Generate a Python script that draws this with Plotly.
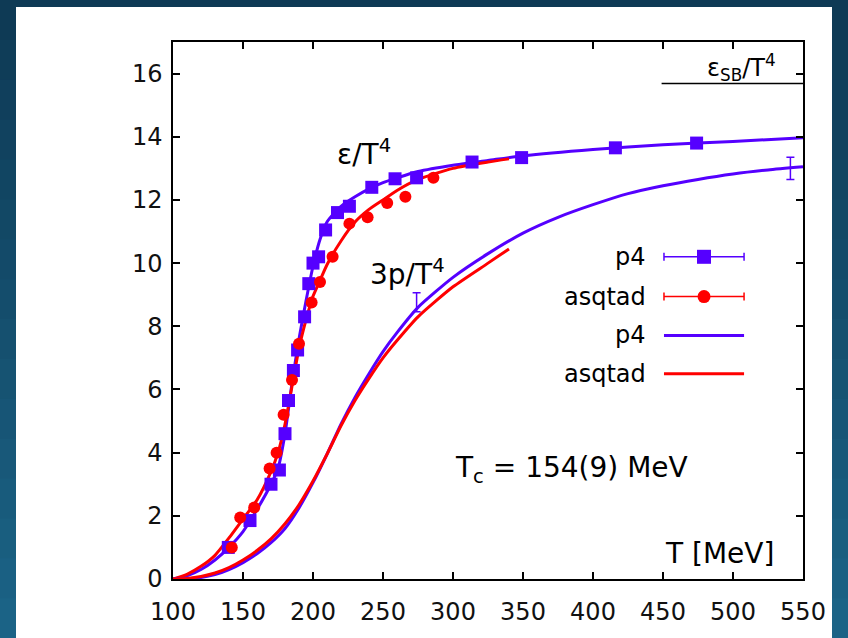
import plotly.graph_objects as go

# ---------------- data ----------------
p4_T = [139.5, 155, 170, 176, 180, 182.5, 186, 189, 194, 197, 200, 204, 209, 217.5, 226, 242, 258.6, 274, 313.6, 349, 416, 474]
p4_e = [1.0, 1.85, 3.0, 3.45, 4.6, 5.65, 6.6, 7.25, 8.3, 9.35, 10.0, 10.2, 11.05, 11.6, 11.8, 12.4, 12.67, 12.7, 13.2, 13.34, 13.65, 13.8]

asq_T = [142, 148, 158, 169, 174, 179, 185, 190, 199, 205, 214, 226, 239, 253, 266, 286]
asq_e = [1.0, 1.95, 2.26, 3.5, 4.0, 5.2, 6.3, 7.45, 8.75, 9.4, 10.2, 11.25, 11.45, 11.9, 12.1, 12.7]

p4_curve_T = [100, 110, 120, 130, 140, 150, 160, 170, 175, 180, 185, 190, 195, 200, 205, 210, 220, 230, 240, 250, 260, 275, 300, 325, 350, 400, 450, 500, 550]
p4_curve_e = [0, 0.1, 0.3, 0.6, 1.0, 1.5, 2.2, 3.0, 3.5, 4.6, 6.2, 7.6, 8.8, 9.9, 10.75, 11.3, 11.8, 12.1, 12.35, 12.55, 12.7, 12.9, 13.1, 13.25, 13.4, 13.6, 13.75, 13.85, 13.97]

asq_curve_T = [100, 110, 120, 130, 140, 150, 160, 170, 175, 180, 185, 190, 195, 200, 205, 210, 220, 230, 240, 250, 260, 275, 300, 325, 340]
asq_curve_e = [0, 0.15, 0.4, 0.75, 1.3, 1.9, 2.5, 3.4, 4.0, 4.9, 6.1, 7.3, 8.2, 8.95, 9.45, 9.95, 10.7, 11.3, 11.7, 12.0, 12.3, 12.65, 13.0, 13.2, 13.3]

p4_p_T = [100, 110, 120, 130, 140, 150, 160, 170, 180, 190, 200, 210, 220, 230, 240, 250, 260, 275, 300, 325, 350, 375, 400, 425, 450, 475, 500, 525, 550]
p4_p = [0, 0.01, 0.05, 0.14, 0.3, 0.52, 0.8, 1.15, 1.6, 2.25, 3.05, 3.95, 4.9, 5.75, 6.5, 7.2, 7.8, 8.6, 9.55, 10.3, 10.95, 11.45, 11.85, 12.2, 12.45, 12.65, 12.82, 12.95, 13.05]

asq_p_T = [100, 110, 120, 130, 140, 150, 160, 170, 180, 190, 200, 210, 220, 230, 240, 250, 260, 275, 300, 325, 340]
asq_p = [0, 0.02, 0.08, 0.19, 0.36, 0.6, 0.9, 1.27, 1.75, 2.35, 3.1, 3.95, 4.85, 5.65, 6.35, 7.0, 7.55, 8.3, 9.25, 10.0, 10.45]

p4_perr_T = [274, 541]
p4_perr_y = [8.76, 13.0]
p4_perr = [0.3, 0.35]

eps_SB = 15.69
eps_SB_T = [449, 550]

x_ticks = [100, 150, 200, 250, 300, 350, 400, 450, 500, 550]
y_ticks = [0, 2, 4, 6, 8, 10, 12, 14, 16]

PURPLE = "#5500ff"
RED = "#ff0000"
FONT = "DejaVu Sans"

W, H = 848, 638
ML, MR, MT, MB = 173, 45, 42, 59
PW, PH = W - ML - MR, H - MT - MB


def fx(px):
    return (px - ML) / PW


def fy(py):
    return (H - MB - py) / PH


fig = go.Figure()

curve_line = dict(width=3, shape="spline", smoothing=0.6)

# curves
fig.add_trace(go.Scatter(x=p4_curve_T, y=p4_curve_e, mode="lines", line=dict(color=PURPLE, **curve_line)))
fig.add_trace(go.Scatter(x=asq_curve_T, y=asq_curve_e, mode="lines", line=dict(color=RED, **curve_line)))
fig.add_trace(go.Scatter(x=p4_p_T, y=p4_p, mode="lines", line=dict(color=PURPLE, **curve_line)))
fig.add_trace(go.Scatter(x=asq_p_T, y=asq_p, mode="lines", line=dict(color=RED, **curve_line)))

# pressure error bars
fig.add_trace(go.Scatter(x=p4_perr_T, y=p4_perr_y, mode="markers", marker=dict(size=1, color=PURPLE),
                         error_y=dict(type="data", array=p4_perr, color=PURPLE, thickness=1.5, width=4)))

# data points
fig.add_trace(go.Scatter(x=p4_T, y=p4_e, mode="markers", marker=dict(symbol="square", size=13, color=PURPLE)))
fig.add_trace(go.Scatter(x=asq_T, y=asq_e, mode="markers", marker=dict(symbol="circle", size=12, color=RED)))

# SB limit
fig.add_trace(go.Scatter(x=eps_SB_T, y=[eps_SB, eps_SB], mode="lines", line=dict(color="black", width=1.5)))

# -------- manual gnuplot-style legend --------
leg_rows = [10.2, 8.94, 7.71, 6.5]
leg_x0, leg_x1 = 450.7, 507.9
leg_xc = (leg_x0 + leg_x1) / 2
leg_half = (leg_x1 - leg_x0) / 2
leg_text_x = 439.3
leg_labels = ["p4", "asqtad", "p4", "asqtad"]

fig.add_trace(go.Scatter(x=[leg_xc], y=[leg_rows[0]], mode="markers",
                         marker=dict(symbol="square", size=14, color=PURPLE),
                         error_x=dict(type="data", array=[leg_half], color=PURPLE, thickness=1.5, width=4)))
fig.add_trace(go.Scatter(x=[leg_xc], y=[leg_rows[1]], mode="markers",
                         marker=dict(symbol="circle", size=13, color=RED),
                         error_x=dict(type="data", array=[leg_half], color=RED, thickness=1.5, width=4)))
fig.add_trace(go.Scatter(x=[leg_x0, leg_x1], y=[leg_rows[2]] * 2, mode="lines", line=dict(color=PURPLE, width=3)))
fig.add_trace(go.Scatter(x=[leg_x0, leg_x1], y=[leg_rows[3]] * 2, mode="lines", line=dict(color=RED, width=3)))

annotations = []
for lab, yy in zip(leg_labels, leg_rows):
    annotations.append(dict(x=leg_text_x, y=yy, xref="x", yref="y", text=lab, showarrow=False,
                            xanchor="right", yanchor="middle", font=dict(family=FONT, size=24, color="black")))

labels = [
    dict(x=215.7, y=13.5, text="ε/T<sup>4</sup>", size=28),
    dict(x=239.3, y=9.7, text="3p/T<sup>4</sup>", size=28),
    dict(x=300, y=3.47, text="T<sub>c</sub> = 154(9) MeV", size=28),
    dict(x=450, y=0.81, text="T [MeV]", size=28),
    dict(x=480, y=16.19, text="ε<sub>SB</sub>/T<sup>4</sup>", size=24),
]
for a in labels:
    annotations.append(dict(x=a["x"], y=a["y"], xref="x", yref="y", text=a["text"], showarrow=False,
                            xanchor="left", yanchor="middle",
                            font=dict(family=FONT, size=a["size"], color="black")))

# -------- background: dark frame with gradient + white panel --------
shapes = []
n_bands = 16
c0 = (14, 58, 85)
c1 = (27, 99, 134)
for i in range(n_bands):
    t = i / (n_bands - 1)
    col = "rgb(%d,%d,%d)" % tuple(int(round(a + (b - a) * t)) for a, b in zip(c0, c1))
    y_top = H * i / n_bands
    y_bot = H * (i + 1) / n_bands + 1
    shapes.append(dict(type="rect", xref="paper", yref="paper", x0=fx(0), x1=fx(W), y0=fy(y_bot), y1=fy(y_top),
                       fillcolor=col, line=dict(width=0), layer="below"))
shapes.append(dict(type="rect", xref="paper", yref="paper", x0=fx(16), x1=fx(832), y0=fy(H + 5), y1=fy(7),
                   fillcolor="white", line=dict(width=0), layer="below"))

axis_common = dict(showline=True, linecolor="black", linewidth=1.5, mirror="ticks", ticks="inside",
                   ticklen=7, tickwidth=1.5, tickcolor="black", showgrid=False, zeroline=False,
                   tickfont=dict(family=FONT, size=24, color="#111"), automargin=False)

fig.update_layout(
    width=W, height=H,
    margin=dict(l=ML, r=MR, t=MT, b=MB, pad=0),
    paper_bgcolor="rgb(18,72,100)",
    plot_bgcolor="white",
    showlegend=False,
    xaxis=dict(range=[100, 550], tickvals=x_ticks, ticklabelstandoff=10, **axis_common),
    yaxis=dict(range=[0, 17], tickvals=y_ticks, ticklabelstandoff=4, **axis_common),
    shapes=shapes,
    annotations=annotations,
)

fig.write_html("out.html")
